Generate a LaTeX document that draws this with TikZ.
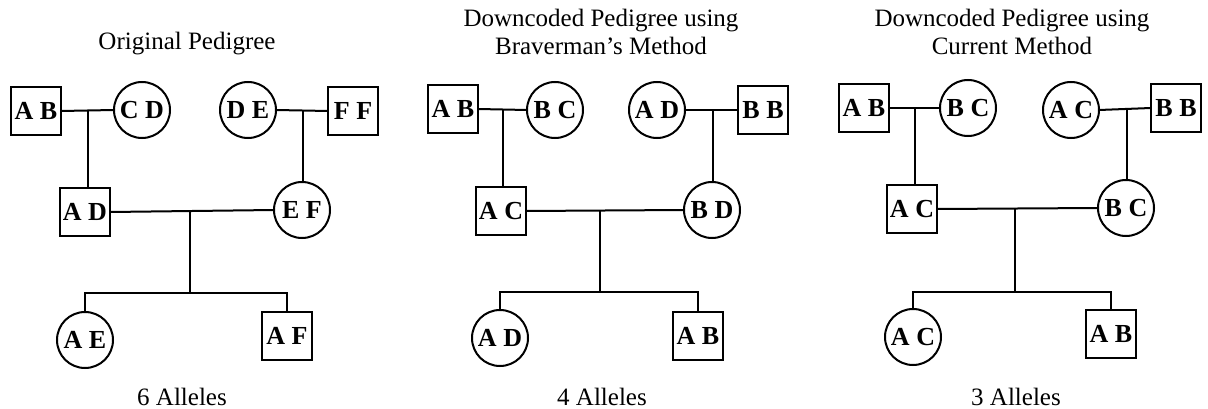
\documentclass[tikz,border=0pt]{standalone}
\usepackage{fontspec}
\setmainfont{Liberation Serif}
\begin{document}
\begin{tikzpicture}[x=1pt,y=-1pt,
  every node/.style={inner sep=0pt, outer sep=0pt},
  male/.style={draw, line width=2pt, rectangle, minimum width=50pt, minimum height=48pt, font=\fontsize{26}{28}\selectfont\bfseries},
  female/.style={draw, line width=2pt, circle, minimum size=56pt, font=\fontsize{26}{28}\selectfont\bfseries},
  ttl/.style={font=\fontsize{25}{28}\selectfont, align=center, anchor=base},
  link/.style={line width=2pt}]
\useasboundingbox (0,0) rectangle (1208,409);
\fill[white] (0,0) rectangle (1208,409);

% ---------- Panel 1 ----------
\node[ttl] (t1) at (187,50) {Original Pedigree};
\node[male]   (p1ab) at (36,111)  {A B};
\node[female] (p1cd) at (142,110) {C D};
\node[female] (p1de) at (248,110) {D E};
\node[male]   (p1ff) at (353,111) {F F};
\node[male]   (p1ad) at (85,212)  {A D};
\node[female] (p1ef) at (302,210) {E F};
\node[female] (p1ae) at (85,340)  {A E};
\node[male]   (p1af) at (287,336) {A F};
\coordinate (p1m1) at (88,110);
\coordinate (p1m2) at (303,110);
\coordinate (p1c) at (190,210);
\coordinate (p1s) at (190,293);
\draw[link] (p1ab.east) -- (p1cd.west);
\draw[link] (p1de.east) -- (p1ff.west);
\draw[link] (p1m1) -- (p1m1 |- p1ad.north);
\draw[link] (p1m2) -- (p1m2 |- p1ef.north);
\draw[link] (p1ad.east) -- (p1ef.west);
\draw[link] (p1c) -- (p1s);
\draw[link] (p1ae.north) -- (p1ae.north |- p1s) -- (p1af.north |- p1s) -- (p1af.north);
\node[ttl] (a1) at (182,405) {6 Alleles};

% ---------- Panel 2 ----------
\node[ttl] (t2) at (601,55) {Downcoded Pedigree using\\Braverman's Method};
\node[male]   (p2ab) at (453,109) {A B};
\node[female] (p2bc) at (555,110) {B C};
\node[female] (p2ad) at (657,110) {A D};
\node[male]   (p2bb) at (763,110) {B B};
\node[male]   (p2ac) at (501,211) {A C};
\node[female] (p2bd) at (712,210) {B D};
\node[female] (p2adc) at (500,338) {A D};
\node[male]   (p2abc) at (698,336) {A B};
\coordinate (p2m1) at (503,110);
\coordinate (p2m2) at (713,110);
\coordinate (p2c) at (600,210);
\coordinate (p2s) at (600,292);
\draw[link] (p2ab.east) -- (p2bc.west);
\draw[link] (p2ad.east) -- (p2bb.west);
\draw[link] (p2m1) -- (p2m1 |- p2ac.north);
\draw[link] (p2m2) -- (p2m2 |- p2bd.north);
\draw[link] (p2ac.east) -- (p2bd.west);
\draw[link] (p2c) -- (p2s);
\draw[link] (p2adc.north) -- (p2adc.north |- p2s) -- (p2abc.north |- p2s) -- (p2abc.north);
\node[ttl] (a2) at (602,405) {4 Alleles};

% ---------- Panel 3 ----------
\node[ttl] (t3) at (1012,55) {Downcoded Pedigree using\\Current Method};
\node[male]   (p3ab) at (864,108)  {A B};
\node[female] (p3bc) at (968,108)  {B C};
\node[female] (p3ac) at (1071,110) {A C};
\node[male]   (p3bb) at (1176,108) {B B};
\node[male]   (p3acm) at (912,209) {A C};
\node[female] (p3bcf) at (1126,208) {B C};
\node[female] (p3acc) at (913,337) {A C};
\node[male]   (p3abc) at (1111,334) {A B};
\coordinate (p3m1) at (915,108);
\coordinate (p3m2) at (1127,110);
\coordinate (p3c) at (1015,208);
\coordinate (p3s) at (1015,292);
\draw[link] (p3ab.east) -- (p3bc.west);
\draw[link] (p3ac.east) -- (p3bb.west);
\draw[link] (p3m1) -- (p3m1 |- p3acm.north);
\draw[link] (p3m2) -- (p3m2 |- p3bcf.north);
\draw[link] (p3acm.east) -- (p3bcf.west);
\draw[link] (p3c) -- (p3s);
\draw[link] (p3acc.north) -- (p3acc.north |- p3s) -- (p3abc.north |- p3s) -- (p3abc.north);
\node[ttl] (a3) at (1016,405) {3 Alleles};
\end{tikzpicture}
\end{document}
